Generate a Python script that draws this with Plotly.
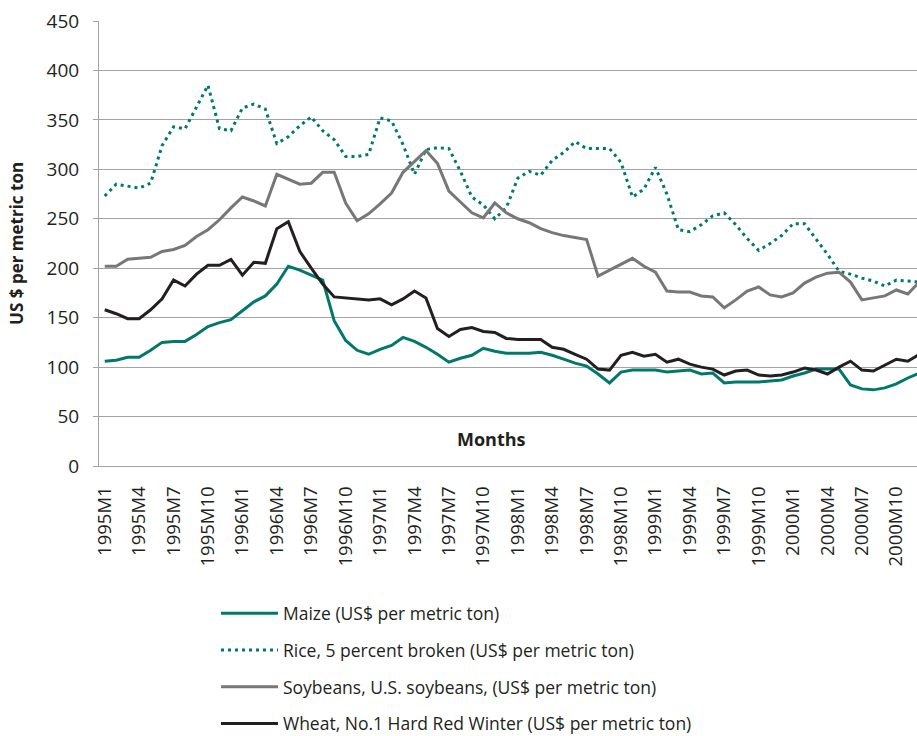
from plotly import graph_objects as go

years = [1995, 1996, 1997, 1998, 1999, 2000]
months = [f"{y}M{m}" for y in years for m in range(1, 13)]
tick_labels = months[::3]

maize = [106, 107, 110, 110, 117, 125, 126, 126, 133, 141, 145, 148,
	157, 166, 172, 184, 202, 198, 193, 188, 147, 127, 117, 113,
	118, 122, 130, 126, 120, 113, 105, 109, 112, 119, 116, 114,
	114, 114, 115, 112, 108, 104, 101, 93, 84, 95, 97, 97,
	97, 95, 96, 97, 93, 94, 84, 85, 85, 85, 86, 87,
	91, 94, 98, 98, 98, 82, 78, 77, 79, 83, 89, 94]

rice = [273, 285, 283, 281, 286, 324, 343, 341, 363, 385, 341, 339,
	362, 366, 361, 326, 333, 344, 353, 339, 330, 313, 313, 315,
	352, 349, 325, 295, 320, 322, 321, 298, 272, 264, 250, 261,
	291, 298, 294, 309, 317, 328, 321, 321, 321, 307, 272, 280,
	302, 275, 239, 237, 244, 253, 256, 244, 230, 218, 225, 233,
	245, 245, 230, 214, 197, 194, 190, 187, 182, 188, 187, 186]

soybeans = [202, 202, 209, 210, 211, 217, 219, 223, 232, 239, 249, 261,
	272, 268, 263, 295, 290, 285, 286, 297, 297, 266, 248, 255,
	265, 276, 297, 308, 319, 306, 278, 267, 256, 251, 266, 256,
	250, 246, 240, 236, 233, 231, 229, 192, 198, 204, 210, 202,
	196, 177, 176, 176, 172, 171, 160, 168, 177, 181, 173, 171,
	175, 185, 191, 195, 196, 186, 168, 170, 172, 178, 174, 186]

wheat = [158, 154, 149, 149, 158, 169, 188, 182, 194, 203, 203, 209,
	193, 206, 205, 240, 247, 217, 200, 184, 171, 170, 169, 168,
	169, 163, 169, 177, 170, 139, 131, 138, 140, 136, 135, 129,
	128, 128, 128, 120, 118, 113, 108, 98, 97, 112, 115, 111,
	113, 105, 108, 103, 100, 98, 92, 96, 97, 92, 91, 92,
	95, 99, 97, 93, 100, 106, 97, 96, 102, 108, 106, 113]

series = [
	('Maize (US$ per metric ton)', maize, '#00796b', 'solid'),
	('Rice, 5 percent broken (US$ per metric ton)', rice, '#00796b', '3px,4px'),
	('Soybeans, U.S. soybeans, (US$ per metric ton)', soybeans, '#777777', 'solid'),
	('Wheat, No.1 Hard Red Winter (US$ per metric ton)', wheat, '#231f20', 'solid'),
]

font = 'Open Sans, Noto Sans, sans-serif'
text_color = '#231f20'
grid_color = '#a3a3a3'

fig = go.Figure()

for name, values, color, dash in series:
	fig.add_trace(go.Scatter(
		x=months,
		y=values,
		mode='lines',
		name=name,
		legendgroup=name,
		line=dict(color=color, width=3, dash=dash)
	))

fig.update_layout(
	width=917,
	height=736,
	margin=dict(l=99, r=0, t=21, b=270),
	plot_bgcolor='white',
	paper_bgcolor='white',
	font=dict(family=font, size=17, color=text_color),
	showlegend=True,
	legend=dict(
		x=0.143,
		y=0.191,
		xref='paper',
		yref='container',
		xanchor='left',
		yanchor='top',
		orientation='v',
		tracegroupgap=11,
		itemwidth=57,
		font=dict(size=17.5, color=text_color),
	),
	annotations=[
		dict(
			text='<b>Months</b>',
			x=0.48, y=0.06,
			xref='paper', yref='paper',
			xanchor='center', yanchor='middle',
			showarrow=False,
			font=dict(size=18, color=text_color),
		),
		dict(
			text='<b>US $ per metric ton</b>',
			x=-0.101, y=0.5,
			xref='paper', yref='paper',
			xanchor='center', yanchor='middle',
			textangle=-90,
			showarrow=False,
			font=dict(size=17, color=text_color),
		),
	],
)

fig.update_xaxes(
	type='category',
	range=[-0.5, 70.8],
	tickvals=tick_labels,
	ticktext=tick_labels,
	tickangle=-90,
	ticks='',
	ticklabelstandoff=12,
	showgrid=False,
	showline=True,
	linecolor=grid_color,
	linewidth=1,
	automargin=False,
	tickfont=dict(size=18.5, color=text_color),
)

fig.update_yaxes(
	range=[0, 450],
	dtick=50,
	showgrid=True,
	gridcolor=grid_color,
	gridwidth=1,
	zeroline=False,
	showline=True,
	linecolor=grid_color,
	linewidth=1,
	ticks='outside',
	ticklen=5,
	tickcolor=grid_color,
	ticklabelstandoff=10,
	automargin=False,
	tickfont=dict(size=19, color=text_color),
)

# page body has a default margin, drop it so the figure sits at the corner
fig.write_html(
	"out.html",
	config={'displayModeBar': False},
	post_script="document.body.style.margin='0px';"
)
